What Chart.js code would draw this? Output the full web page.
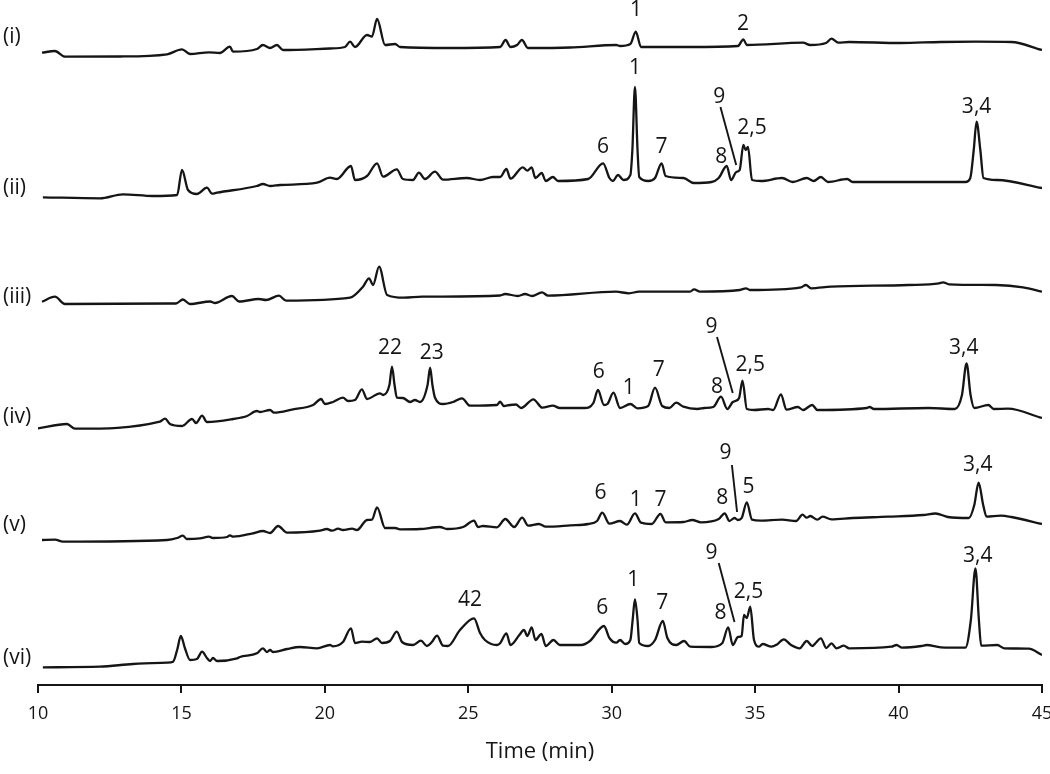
<!DOCTYPE html>
<html><head><meta charset="utf-8">
<script src="https://cdn.jsdelivr.net/npm/chart.js@4.4.1/dist/chart.umd.min.js"></script>
<style>html,body{margin:0;padding:0;background:#fff;} #c{display:block;}</style>
</head><body>
<canvas id="c" width="1050" height="774" style="width:1050px;height:774px"></canvas>
<script>
// Stacked chromatogram traces: [time (min), stacked signal]
const trace_i = [[10.14,632.3],[10.59,634],[10.94,628.3],[12.86,628.5],[14.50,630.7],[15.02,635.7],[15.30,631],[15.96,632.7],[16.34,632],[16.69,638.3],[16.80,633.3],[17.63,636],[17.84,640],[18.09,637],[18.33,640],[18.54,635],[20.18,636.5],[20.70,638],[20.88,643.3],[21.05,638],[21.47,650],[21.64,648.3],[21.82,666],[22.10,640],[22.45,641],[22.62,638],[24.36,637],[26.11,638],[26.30,645],[26.47,638],[26.70,640],[26.87,645],[27.08,637],[28.55,637.5],[30.16,640],[30.29,639],[30.65,641],[30.84,653.3],[31.02,638],[32.73,638],[34.40,639],[34.59,645.7],[34.71,640],[36.67,642.3],[36.92,640],[37.47,642],[37.66,646.3],[37.90,642.3],[38.27,643],[40.05,642],[41.47,643],[42.70,643.3],[43.93,643],[45.0,635]];
const trace_ii = [[10.17,487.7],[12.16,486.7],[12.96,490.7],[14.01,489],[14.85,490],[15.02,515],[15.23,495],[15.54,491],[15.89,497.3],[16.07,491.3],[16.24,492.3],[17.63,499],[17.84,501],[18.09,499],[18.44,500],[19.73,502.3],[20.18,507.3],[20.42,506],[20.91,519],[21.05,505],[21.47,509],[21.82,521.7],[22.03,508.3],[22.51,515.7],[22.72,506],[23.07,505],[23.28,512.3],[23.49,506],[23.84,513.3],[24.12,505.3],[24.95,507],[25.41,505],[25.86,508],[26.11,508],[26.33,516],[26.47,506.3],[26.90,517.7],[27.06,514.3],[27.21,517.7],[27.34,507],[27.56,512],[27.70,504],[27.95,508],[28.13,504],[29.18,506],[29.70,521.7],[29.92,507],[30.04,504],[30.22,510],[30.41,505],[30.65,510],[30.72,535],[30.81,598],[30.90,535],[30.96,508],[31.27,504],[31.51,507],[31.74,521.7],[31.88,509],[32.50,507],[32.86,502],[33.48,503],[33.73,507],[34.01,519],[34.16,505],[34.34,513],[34.46,515],[34.59,540],[34.67,535],[34.75,538],[34.89,505],[35.20,504],[35.94,507],[36.31,503],[36.80,507],[37.04,504],[37.29,508],[37.54,503],[38.21,506],[38.40,503],[42.33,503],[42.50,507],[42.62,535],[42.72,563.3],[42.85,535],[42.96,507],[43.44,505],[45.0,497]];
const trace_iii = [[10.14,383.3],[10.59,388.3],[10.94,381],[14.53,381.5],[14.81,381.5],[15.05,385.5],[15.30,381],[16.00,383.5],[16.17,382],[16.76,389],[17.01,383.5],[17.70,386],[17.95,385],[18.40,389.3],[18.65,384.3],[20.88,387.3],[21.33,398.3],[21.54,406.7],[21.68,400],[21.89,418.3],[22.17,390],[22.76,387.3],[23.39,388.3],[26.11,389.5],[26.28,391],[26.73,389],[26.98,391],[27.22,389],[27.57,392.7],[27.78,389.3],[30.15,393.3],[30.60,391.7],[30.95,393.3],[32.73,393.3],[32.87,395.7],[33.08,393.3],[34.47,395],[34.68,396.7],[34.82,395],[36.60,397.7],[36.77,400],[36.95,396.7],[37.64,398.3],[40.33,400],[41.41,401.7],[41.55,402.7],[41.76,400.7],[43.40,400],[44.34,397.7],[45.0,393.3]];
const trace_iv = [[10.00,256.7],[11.01,261],[11.29,256.3],[14.25,263.3],[14.43,266.3],[14.60,261],[15.02,259],[15.37,266],[15.51,262],[15.72,269.3],[15.89,263],[16.80,266],[17.29,269],[17.63,274],[17.74,273],[18.09,275],[18.23,272.3],[18.89,275.7],[19.59,280],[19.87,286],[20.00,281],[20.28,283],[20.63,287.3],[20.81,284],[21.05,285],[21.29,295.7],[21.47,286],[21.92,291.7],[22.03,290],[22.25,300],[22.34,318.3],[22.43,300],[22.51,287.3],[22.72,287],[22.97,283],[23.14,285],[23.32,283],[23.58,300],[23.67,317.3],[23.75,300],[23.84,287.3],[24.12,281],[24.47,283],[24.78,286.7],[25.06,279.3],[26.00,280],[26.11,283.3],[26.24,279],[26.45,280],[26.66,280.5],[26.84,277],[27.27,285.7],[27.58,277.3],[27.95,279.3],[28.19,277],[29.05,277],[29.36,282],[29.52,295],[29.73,280],[29.85,281],[30.06,292.3],[30.29,277],[30.65,281],[30.90,276.7],[31.27,279],[31.51,297.3],[31.76,279],[32.01,277],[32.25,282.3],[32.50,278.3],[32.99,276],[33.23,277],[33.54,278],[33.81,288.3],[34.03,276],[34.22,283],[34.31,284],[34.44,287],[34.56,304.3],[34.71,276],[34.96,275],[35.45,276],[35.63,275],[35.90,290.7],[36.09,275.3],[36.49,278],[36.67,275],[36.99,280],[37.17,275],[38.89,277],[38.99,278],[39.14,276],[41.04,277],[41.96,276],[42.21,290],[42.37,321.7],[42.51,290],[42.64,277],[43.13,280],[43.32,276],[43.81,276.3],[45.0,267]];
const trace_v = [[10.14,145],[10.59,145.3],[10.87,143.3],[14.50,145],[14.85,147],[15.05,149.3],[15.19,146],[15.65,146.7],[15.96,148.3],[16.10,147],[16.59,148],[16.69,149.7],[16.80,148.3],[17.49,151.7],[17.84,154],[18.09,152],[18.37,159],[18.68,152.3],[19.83,154.3],[20.07,156],[20.25,154.3],[20.46,156.3],[20.63,155],[20.95,156.3],[21.12,155],[21.47,165],[21.64,165.3],[21.82,177.7],[22.10,157],[22.45,157],[22.62,155.7],[23.32,156],[24.01,158],[24.26,156],[24.82,158],[25.20,164.3],[25.34,158],[25.51,159],[26.00,157.7],[26.29,166],[26.60,158],[26.88,167.3],[27.09,159.3],[27.46,161],[27.70,158.3],[28.56,159.7],[29.18,161],[29.49,164],[29.67,172.3],[29.92,161.3],[30.29,164],[30.53,160.3],[30.81,171.7],[31.02,162.3],[31.39,161],[31.70,171],[31.88,162.7],[32.50,163],[32.81,165],[33.11,162.7],[33.73,166],[33.94,171.7],[34.10,164],[34.28,167],[34.40,165],[34.53,167],[34.71,182.7],[34.89,165.3],[35.20,164.3],[35.94,165.3],[36.43,164],[36.65,170.3],[36.80,167.3],[36.92,169],[37.17,165.3],[37.35,168.3],[37.66,165.7],[38.40,167],[39.63,168.3],[40.86,170],[41.29,171.5],[41.72,168],[42.45,167],[42.64,180],[42.79,202.3],[42.95,180],[43.07,168.3],[43.56,169.3],[43.93,168],[45.0,161]];
const trace_vi = [[10.17,17.7],[12.16,18.3],[13.31,21],[14.50,22.3],[14.71,23.3],[14.85,35],[14.98,49],[15.12,37],[15.30,25],[15.54,26],[15.72,33.3],[15.89,27],[16.00,24],[16.10,27],[16.24,24],[16.94,26.7],[17.04,28],[17.63,31.7],[17.84,36.7],[17.98,33],[18.09,35],[18.19,33],[18.68,36],[19.13,38],[19.73,36.7],[20.18,40],[20.28,38.7],[20.63,43],[20.91,56.7],[21.05,42],[21.29,43.3],[21.57,43],[21.82,46.7],[21.99,42],[22.27,44],[22.51,53.3],[22.69,43],[23.07,40],[23.35,44.3],[23.56,39],[23.73,43],[23.91,49.3],[24.12,39.3],[24.29,39],[24.71,55],[25.20,66.7],[25.41,52],[25.58,45],[26.00,40],[26.11,41.7],[26.33,51.7],[26.47,40],[26.78,50],[26.94,55],[27.06,49],[27.21,57.7],[27.34,45],[27.55,51],[27.70,39],[27.97,45],[28.19,40],[28.93,40],[29.24,44],[29.73,59],[29.92,47],[30.16,42.3],[30.29,45],[30.47,41],[30.65,45],[30.73,65],[30.81,85.7],[30.90,65],[30.96,42],[31.27,39],[31.51,45],[31.78,64],[31.94,47],[32.25,40],[32.52,44],[32.74,38.3],[33.48,38],[33.85,41.7],[34.06,57.7],[34.22,40],[34.40,48],[34.53,49],[34.61,70],[34.71,67],[34.83,78.3],[34.96,45],[35.14,38.3],[35.26,41],[35.57,38.3],[35.75,40.3],[36.00,45.7],[36.25,40],[36.55,36.7],[36.80,44],[36.99,39],[37.11,42],[37.29,46.7],[37.48,37],[37.66,41.7],[37.84,36.7],[38.09,39.3],[38.28,36.7],[39.75,38.3],[39.93,40],[40.12,37.3],[40.80,39],[40.98,40],[41.47,37.7],[42.33,37.3],[42.52,65],[42.68,116.7],[42.80,65],[42.88,39.3],[43.44,40],[43.68,36.7],[44.54,36.3],[45.0,30]];

const traceNames = ['(i)','(ii)','(iii)','(iv)','(v)','(vi)'];
const traceNameLevels = [648, 497, 388, 268, 160, 27];

const peakLabels = [
  ['1',30.85,675],['2',34.58,661],
  ['1',30.81,617],['6',29.70,538],['7',31.74,538],['8',33.82,528],['9',33.75,588],['2,5',34.89,557],['3,4',42.72,578],
  ['22',22.27,337],['23',23.73,332],['6',29.55,313],['1',30.59,297],['7',31.64,315],['8',33.67,298],['9',33.48,358],['2,5',34.83,320],['3,4',42.27,337],
  ['6',29.61,192],['1',30.84,185],['7',31.70,185],['8',33.85,187],['9',33.97,232],['5',34.77,198],['3,4',42.76,220],
  ['42',25.06,85],['6',29.67,77],['1',30.75,105],['7',31.76,82],['8',33.79,72],['9',33.48,132],['2,5',34.77,93],['3,4',42.76,129]
];
const leaderLines = [
  [33.79,578,34.34,520],
  [33.67,348,34.22,292],
  [34.19,220,34.37,173],
  [33.73,122,34.28,63]
];

const INK = '#151515';
const FONT = '"Open Sans", "Noto Sans", sans-serif';

const annot = {
  id: 'annot',
  afterDatasetsDraw(chart) {
    const {ctx, scales: {x, y}} = chart;
    ctx.save();
    ctx.fillStyle = INK;
    ctx.strokeStyle = INK;
    ctx.font = '21px ' + FONT;
    ctx.textAlign = 'center';
    ctx.textBaseline = 'middle';
    peakLabels.forEach(([txt, t, v]) => ctx.fillText(txt, x.getPixelForValue(t), y.getPixelForValue(v)));
    ctx.lineWidth = 1.9;
    leaderLines.forEach(([t1, v1, t2, v2]) => {
      ctx.beginPath();
      ctx.moveTo(x.getPixelForValue(t1), y.getPixelForValue(v1));
      ctx.lineTo(x.getPixelForValue(t2), y.getPixelForValue(v2));
      ctx.stroke();
    });
    ctx.textAlign = 'left';
    ctx.font = '21px ' + FONT;
    traceNames.forEach((n, i) => ctx.fillText(n, 3, y.getPixelForValue(traceNameLevels[i])));
    ctx.restore();
  }
};

const traces = [trace_i, trace_ii, trace_iii, trace_iv, trace_v, trace_vi];

new Chart(document.getElementById('c'), {
  type: 'line',
  data: {
    datasets: traces.map((tr, i) => ({
      label: traceNames[i],
      data: tr.map(([t, v]) => ({x: t, y: v})),
      borderColor: INK,
      borderWidth: 2.3,
      pointRadius: 0,
      fill: false,
      cubicInterpolationMode: 'monotone'
    }))
  },
  options: {
    responsive: false,
    animation: false,
    devicePixelRatio: 1,
    layout: {padding: {left: 38, right: 8, top: 0, bottom: 5}},
    plugins: {legend: {display: false}, tooltip: {enabled: false}},
    scales: {
      x: {
        type: 'linear', min: 10, max: 45,
        ticks: {stepSize: 5, padding: 10, color: INK, maxRotation: 0, autoSkip: false, font: {family: FONT, size: 18}},
        grid: {display: true, drawOnChartArea: false, drawTicks: true, tickLength: 8, color: INK, lineWidth: 2},
        border: {display: true, color: INK, width: 2},
        title: {display: true, text: 'Time (min)', color: INK, font: {family: FONT, size: 22}, padding: {top: 4, bottom: 4}},
        afterFit(s) { s.paddingLeft = 0; s.paddingRight = 0; }
      },
      y: {type: 'linear', display: false, min: 0, max: 685}
    }
  },
  plugins: [annot]
});
</script>
</body></html>
